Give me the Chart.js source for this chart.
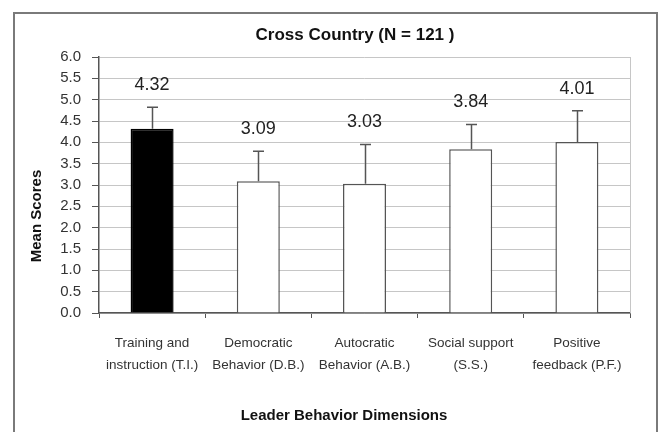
<!DOCTYPE html>
<html><head><meta charset="utf-8">
<script src="https://cdn.jsdelivr.net/npm/chart.js@4/dist/chart.umd.min.js"></script>
<style>
html,body{margin:0;padding:0;background:#fff;overflow:hidden}
#wrap{position:relative;width:664px;height:432px}
#frame{position:absolute;left:13px;top:12px;width:645px;height:440px;border:2px solid #7a7a7a;box-sizing:border-box;pointer-events:none}
canvas{position:absolute;left:0;top:0}
</style></head><body>
<div id="wrap"><canvas id="c" width="664" height="432"></canvas><div id="frame"></div></div>
<script>
const chartTitle = "Cross Country (N = 121 )";
const xTitle = "Leader Behavior Dimensions";
const yTitle = "Mean Scores";
const categories = [
  ["Training and", "instruction (T.I.)"],
  ["Democratic", "Behavior (D.B.)"],
  ["Autocratic", "Behavior (A.B.)"],
  ["Social support", "(S.S.)"],
  ["Positive", "feedback (P.F.)"]
];
const means = [4.32, 3.09, 3.03, 3.84, 4.01];
const sds = [0.50, 0.70, 0.92, 0.58, 0.73];
const valueLabels = ["4.32", "3.09", "3.03", "3.84", "4.01"];
const yMin = 0, yMax = 6, yStep = 0.5;

const barFills = ["#000000", "#ffffff", "#ffffff", "#ffffff", "#ffffff"];
const barEdges = ["#000000", "#555555", "#555555", "#555555", "#555555"];
const FONT = '"Liberation Sans", Arial, sans-serif';

const extras = {
  id: 'extras',
  beforeDatasetsDraw(chart) {
    const {ctx, chartArea: a} = chart;
    ctx.save();
    ctx.strokeStyle = '#c6c6c6';
    ctx.lineWidth = 1;
    ctx.beginPath();
    ctx.moveTo(a.right + 0.5, a.top);
    ctx.lineTo(a.right + 0.5, a.bottom);
    ctx.stroke();
    ctx.restore();
  },
  afterDatasetsDraw(chart) {
    const ctx = chart.ctx, y = chart.scales.y, meta = chart.getDatasetMeta(0);
    ctx.save();
    meta.data.forEach((bar, i) => {
      const top = y.getPixelForValue(means[i] + sds[i]);
      const x = Math.round(bar.x) + 0.5;
      ctx.strokeStyle = '#555';
      ctx.lineWidth = 1.5;
      ctx.beginPath();
      ctx.moveTo(x, bar.y);
      ctx.lineTo(x, top);
      ctx.moveTo(x - 5.5, top);
      ctx.lineTo(x + 5.5, top);
      ctx.stroke();
      ctx.fillStyle = '#222';
      ctx.font = '18px ' + FONT;
      ctx.textAlign = 'center';
      ctx.textBaseline = 'middle';
      ctx.fillText(valueLabels[i], bar.x, top - 22);
    });
    ctx.restore();
  },
  afterDraw(chart) {
    const ctx = chart.ctx;
    ctx.save();
    ctx.fillStyle = '#111';
    ctx.textAlign = 'center';
    ctx.textBaseline = 'middle';
    ctx.font = 'bold 17px ' + FONT;
    ctx.fillText(chartTitle, 355, 35);
    ctx.font = 'bold 15px ' + FONT;
    ctx.fillText(xTitle, 344, 416);
    ctx.translate(37, 216);
    ctx.rotate(-Math.PI / 2);
    ctx.fillText(yTitle, 0, 0);
    ctx.restore();
  }
};

new Chart(document.getElementById('c'), {
  type: 'bar',
  data: {
    labels: categories,
    datasets: [{
      data: means,
      backgroundColor: barFills,
      borderColor: barEdges,
      borderWidth: 1.5,
      barPercentage: 0.405,
      categoryPercentage: 1
    }]
  },
  options: {
    responsive: false,
    animation: false,
    devicePixelRatio: 1,
    layout: {padding: {top: 57, right: 34, bottom: 0, left: 0}},
    plugins: {legend: {display: false}, tooltip: {enabled: false}, title: {display: false}},
    scales: {
      x: {
        afterFit(s) { s.height = 119; },
        grid: {drawOnChartArea: false, drawTicks: true, tickLength: 5, color: '#555', tickColor: '#555', offset: true},
        border: {color: '#555', width: 1.5},
        ticks: {color: '#333', padding: 14, maxRotation: 0, autoSkip: false,
          font: {family: FONT, size: 13.5, lineHeight: 1.63}}
      },
      y: {
        min: yMin, max: yMax,
        afterFit(s) { s.width = 99; },
        grid: {color: '#c6c6c6', tickColor: '#555', tickLength: 7, lineWidth: 1},
        border: {color: '#555', width: 1.5},
        ticks: {stepSize: yStep, color: '#333', padding: 11,
          font: {family: FONT, size: 15},
          callback: v => Number(v).toFixed(1)}
      }
    }
  },
  plugins: [extras]
});
</script>
</body></html>
